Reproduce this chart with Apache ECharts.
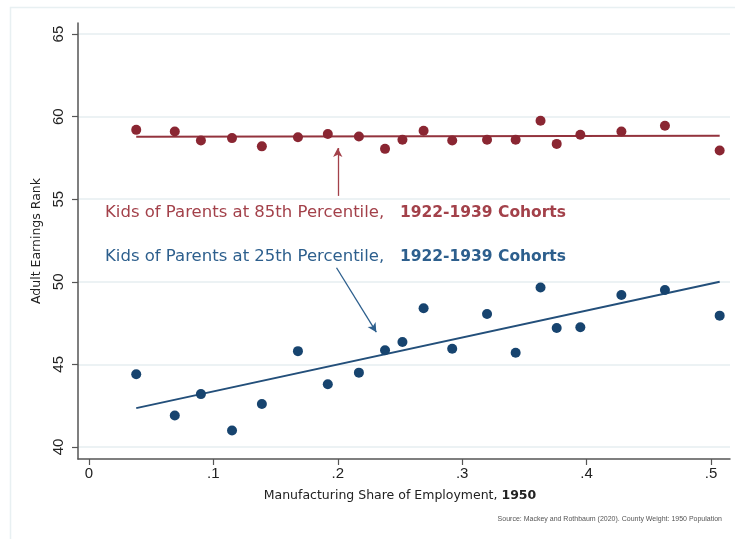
<!DOCTYPE html>
<html><head><meta charset="utf-8">
<script src="https://cdn.jsdelivr.net/npm/echarts@6/dist/echarts.min.js"></script>
<style>html,body{margin:0;padding:0;background:#fff}#c{width:735px;height:539px}</style>
</head><body><div id="c"></div>
<script>
// ---- data ----
const shareX = [0.038, 0.069, 0.090, 0.115, 0.139, 0.168, 0.192, 0.217, 0.238, 0.252, 0.269, 0.292, 0.320, 0.343, 0.363, 0.376, 0.395, 0.428, 0.463, 0.507];
const rank85 = [59.2, 59.1, 58.55, 58.7, 58.2, 58.75, 58.95, 58.8, 58.05, 58.6, 59.15, 58.55, 58.6, 58.6, 59.75, 58.35, 58.9, 59.1, 59.45, 57.95];
const rank25 = [44.4, 41.9, 43.2, 41.0, 42.6, 45.8, 43.8, 44.5, 45.85, 46.35, 48.4, 45.95, 48.05, 45.7, 49.65, 47.2, 47.25, 49.2, 49.5, 47.95];
const fit85X = [0.038, 0.507];
const fit85Y = [58.78, 58.85];
const fit25X = [0.038, 0.507];
const fit25Y = [42.35, 50.0];
const xTicks = [0, 0.1, 0.2, 0.3, 0.4, 0.5];
const xTickLabels = ['0', '.1', '.2', '.3', '.4', '.5'];
const yTicks = [40, 45, 50, 55, 60, 65];
const arrow85 = [[0.200, 55.2], [0.200, 58.1]];
const arrow25 = [[0.199, 50.85], [0.231, 46.95]];
const label85 = ['Kids of Parents at 85th Percentile,', '1922-1939 Cohorts'];
const label25 = ['Kids of Parents at 25th Percentile,', '1922-1939 Cohorts'];
const xTitle = ['Manufacturing Share of Employment, ', '1950'];
const yTitle = 'Adult Earnings Rank';
const sourceNote = 'Source: Mackey and Rothbaum (2020). County Weight: 1950 Population';

const RED = '#8a2632', RED_T = '#a3414a', BLUE = '#17446f', BLUE_T = '#2d5f8d';
const FONT = '"Liberation Sans", Arial, sans-serif';
const WIDE = '"DejaVu Sans", sans-serif';

const chart = echarts.init(document.getElementById('c'), null, {renderer: 'canvas'});
const pairs = (xs, ys) => xs.map((x, i) => [x, ys[i]]);

const rich = (c) => ({
  n: {fontFamily: WIDE, fontSize: 16.5, fill: c},
  s: {fontFamily: WIDE, fontSize: 16.5, fill: c},
  b: {fontFamily: WIDE, fontSize: 15.5, fontWeight: 'bold', fill: c}
});

chart.setOption({
  animation: false,
  backgroundColor: '#fff',
  grid: {left: 78, right: 5, top: 23, bottom: 80},
  xAxis: {
    type: 'value', min: -0.0088, max: 0.5153,
    axisLine: {show: true, onZero: false, lineStyle: {color: '#555', width: 1.5}},
    axisTick: {show: true, length: 6, customValues: xTicks, lineStyle: {color: '#555', width: 1.2}},
    axisLabel: {customValues: xTicks, margin: 7, fontFamily: FONT, fontSize: 15, color: '#222',
      formatter: v => xTickLabels[xTicks.findIndex(t => Math.abs(t - v) < 1e-9)] ?? ''},
    splitLine: {show: false}
  },
  yAxis: {
    type: 'value', min: 39.27, max: 65.67,
    name: yTitle, nameLocation: 'middle', nameGap: 34, nameRotate: 90,
    nameTextStyle: {fontFamily: WIDE, fontSize: 12.5, color: '#222'},
    axisLine: {show: true, onZero: false, lineStyle: {color: '#555', width: 1.5}},
    axisTick: {show: true, length: 6, customValues: yTicks, lineStyle: {color: '#555', width: 1.2}},
    axisLabel: {customValues: yTicks, rotate: 90, margin: 12, fontFamily: FONT, fontSize: 15, color: '#222'},
    splitLine: {show: false}
  },
  series: [
    {type: 'line', data: [], silent: true, z: 0,
      markLine: {silent: true, symbol: 'none', label: {show: false}, z: 0,
        lineStyle: {color: '#e6eef1', width: 1.5, type: 'solid'},
        data: yTicks.map(v => ({yAxis: v}))}},
    {type: 'line', data: pairs(fit85X, fit85Y), symbol: 'none', silent: true,
      lineStyle: {color: '#93333d', width: 2}, z: 2},
    {type: 'line', data: pairs(fit25X, fit25Y), symbol: 'none', silent: true,
      lineStyle: {color: '#234f7a', width: 2}, z: 2},
    {type: 'scatter', data: pairs(shareX, rank85), symbolSize: 10,
      itemStyle: {color: RED, opacity: 1}, z: 3},
    {type: 'scatter', data: pairs(shareX, rank25), symbolSize: 10,
      itemStyle: {color: BLUE, opacity: 1}, z: 3},
    {type: 'line', data: [], silent: true,
      markLine: {silent: true, symbol: ['none', 'arrow'], symbolSize: [7, 9], label: {show: false},
        data: [
          [{coord: arrow85[0], lineStyle: {color: RED_T, width: 1.3, type: 'solid'}}, {coord: arrow85[1]}],
          [{coord: arrow25[0], lineStyle: {color: BLUE_T, width: 1.3, type: 'solid'}}, {coord: arrow25[1]}]
        ]}}
  ],
  graphic: [
    {type: 'rect', left: 8, top: 5, silent: true, z: -10,
      shape: {width: 740, height: 545}, style: {fill: 'none', stroke: '#e8f0f2', lineWidth: 1.5}},
    {type: 'text', left: 105, top: 204, silent: true,
      style: {rich: rich(RED_T), text: '{n|' + label85[0] + '}{s|   }{b|' + label85[1] + '}'}},
    {type: 'text', left: 105, top: 248, silent: true,
      style: {rich: rich(BLUE_T), text: '{n|' + label25[0] + '}{s|   }{b|' + label25[1] + '}'}},
    {type: 'text', x: 400, y: 496, silent: true,
      style: {rich: {n: {fontFamily: WIDE, fontSize: 12.5, fill: '#222'}, b: {fontFamily: WIDE, fontSize: 12.5, fontWeight: 'bold', fill: '#222'}},
        text: '{n|' + xTitle[0] + '}{b|' + xTitle[1] + '}', align: 'center', verticalAlign: 'middle'}},
    {type: 'text', x: 722, y: 519, silent: true,
      style: {text: sourceNote, fontFamily: FONT, fontSize: 7, fill: '#555', align: 'right', verticalAlign: 'middle'}}
  ]
});
</script></body></html>
